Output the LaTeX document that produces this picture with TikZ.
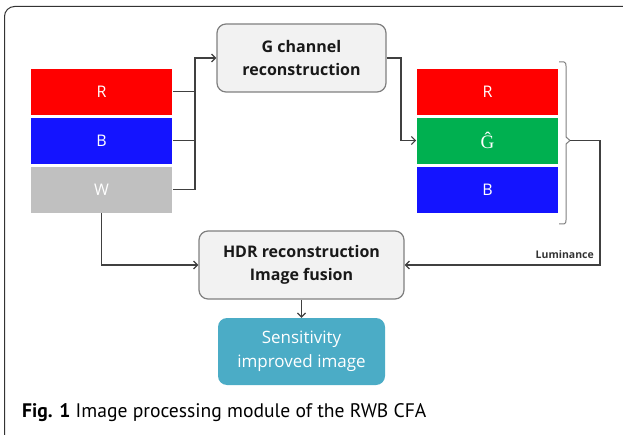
\documentclass[tikz,border=0pt]{standalone}
\usepackage{fontspec}
\setmainfont{Open Sans}
\newfontfamily\capfont{PT Sans}
\newfontfamily\hatfont{Liberation Serif}
\usetikzlibrary{arrows.meta}
\definecolor{lineC}{HTML}{404040}
\definecolor{boxFill}{HTML}{F2F2F2}
\definecolor{boxLine}{HTML}{7F7F7F}
\definecolor{cRed}{HTML}{FF0000}
\definecolor{cBlue}{HTML}{1414FF}
\definecolor{cGray}{HTML}{C0C0C0}
\definecolor{cGreen}{HTML}{00B050}
\definecolor{cOut}{HTML}{4BACC6}
\tikzset{
  band/.style={draw=white, line width=0.6pt, minimum width=142pt, minimum height=47pt, inner sep=0pt, text=white, font=\fontsize{16}{18}\selectfont},
  procbox/.style={draw=boxLine, fill=boxFill, line width=1.2pt, rounded corners=9pt, inner sep=0pt, align=center, font=\fontsize{16}{23}\selectfont\bfseries, text=black!90},
  outbox/.style={fill=cOut, rounded corners=9pt, inner sep=0pt, align=center, text=white, font=\fontsize{17}{24}\selectfont},
  conn/.style={draw=lineC, line width=1.3pt},
  arr/.style={conn, -{Straight Barb[length=4pt,width=8pt,line width=1.2pt]}},
}
\begin{document}
\begin{tikzpicture}[x=1pt,y=-1pt]
\useasboundingbox (0,0) rectangle (623,435);
\begin{scope}
\clip (0,0) rectangle (623,435);
\draw[line width=1pt, draw=black!80, rounded corners=10pt] (4.5,6.5) rectangle (680,480);
\end{scope}
% left stack
\node[band, fill=cRed] (lR) at (101.5,91.5) {R};
\node[band, fill=cBlue] (lB) at (101.5,140.5) {B};
\node[band, fill=cGray] (lW) at (101.5,189.5) {W};
% right stack
\node[band, fill=cRed] (rR) at (487.5,91.5) {R};
\node[band, fill=cGreen] (rG) at (487.5,140.5) {\hatfont\fontsize{19}{20}\selectfont Ĝ};
\node[band, fill=cBlue] (rB) at (487.5,189.5) {B};
% process boxes
\node[procbox, minimum width=169pt, minimum height=68pt] (g) at (301.5,58) {G channel\\reconstruction};
\node[procbox, minimum width=205pt, minimum height=68pt] (hdr) at (301.5,265) {HDR reconstruction\\Image fusion};
\node[outbox, minimum width=167pt, minimum height=67pt] (out) at (301.5,351.5) {Sensitivity\\improved image};
% left connectors
\coordinate (jl) at (195,58);
\draw[conn] (lR.east) -- (lR.east -| jl);
\draw[conn] (lB.east) -- (lB.east -| jl);
\draw[arr] (lW.east) -| (jl) -- (g.west);
% G to right stack
\coordinate (jr) at (401,140.5);
\draw[arr] (g.east) -| (jr) -- (rG.west);
% bracket
\coordinate (bk) at (570,140.5);
\draw[draw=boxLine, line width=1pt, line join=round] (559,62) -- (564,62) to[out=0,in=90] (566,66) -- (566,137) -- (bk) -- (566,144) -- (566,220) to[out=-90,in=0] (564,224) -- (559,224);
% luminance
\coordinate (jb) at (600,265);
\draw[arr] (bk) -| (jb) -- (hdr.east);
\node[anchor=south east, inner sep=0pt, font=\fontsize{10.5}{12}\selectfont\bfseries, text=black!80] (lum) at (594,259) {Luminance};
% W to HDR
\draw[arr] (lW.south) |- (hdr.west);
% HDR to output
\draw[arr] (hdr.south) -- (out.north);
% caption
\node[anchor=base west, inner sep=0pt, font=\capfont\fontsize{19.6}{21}\selectfont] (cap) at (22,417) {\textbf{Fig. 1} Image processing module of the RWB CFA};
\end{tikzpicture}
\end{document}
